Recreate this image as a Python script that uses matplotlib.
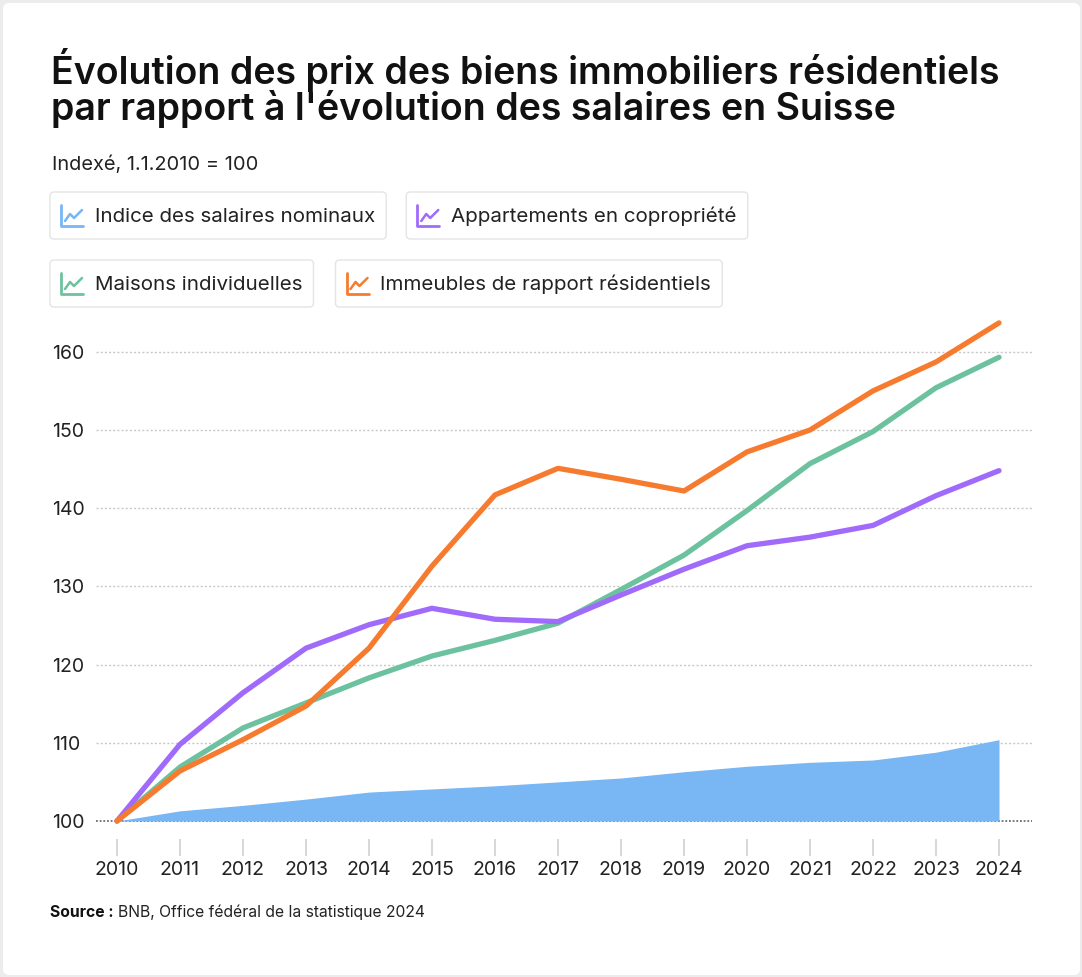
import numpy as np
import matplotlib
matplotlib.use("Agg")
import matplotlib.pyplot as plt
from matplotlib.patches import FancyBboxPatch
from matplotlib.lines import Line2D

plt.rcParams['font.family'] = ['Inter', 'DejaVu Sans']

########## DATA ##########

years = list(range(2010, 2025))
salaires = [100, 101.3, 102.0, 102.8, 103.7, 104.1, 104.5, 105.0, 105.5,
            106.3, 107.0, 107.5, 107.8, 108.8, 110.4]
appartements = [100, 109.8, 116.4, 122.1, 125.1, 127.2, 125.8, 125.5, 128.9,
                132.2, 135.2, 136.3, 137.8, 141.6, 144.8]
maisons = [100, 106.9, 111.9, 115.1, 118.3, 121.1, 123.1, 125.3, 129.6,
           134.0, 139.7, 145.7, 149.8, 155.4, 159.3]
immeubles = [100, 106.4, 110.4, 114.7, 122.1, 132.6, 141.7, 145.1, 143.7,
             142.2, 147.2, 150.0, 155.0, 158.7, 163.7]

yticks = [100, 110, 120, 130, 140, 150, 160]

series_names = ["Indice des salaires nominaux", "Appartements en copropriété",
                "Maisons individuelles", "Immeubles de rapport résidentiels"]
c_blue = '#78b6f4'
c_purple = '#a06afa'
c_green = '#6cc29e'
c_orange = '#f77b2e'
series_colors = [c_blue, c_purple, c_green, c_orange]

title_lines = ["Évolution des prix des biens immobiliers résidentiels",
               "par rapport à l'évolution des salaires en Suisse"]
subtitle = "Indexé, 1.1.2010 = 100"
source_bold = "Source :"
source_text = "BNB, Office fédéral de la statistique 2024"

########## FIGURE ##########

W, H = 1082, 977
fig = plt.figure(figsize=(W / 100, H / 100), dpi=100, facecolor='#ececec')

def fx(px):
    return px / W

def fy(py):
    return 1 - py / H

# white card behind everything
card = FancyBboxPatch((fx(3), fy(975)), fx(1077), 972 / H,
                      boxstyle="round,pad=0,rounding_size=0.006",
                      transform=fig.transFigure, facecolor='white',
                      edgecolor='none', zorder=-5)
fig.patches.append(card)

fig.text(fx(51), fy(84), title_lines[0], fontsize=27, fontweight='semibold',
         color='#111111', va='baseline')
fig.text(fx(51), fy(120), title_lines[1], fontsize=27, fontweight='semibold',
         color='#111111', va='baseline')
fig.text(fx(52), fy(170), subtitle, fontsize=14.4, color='#222222',
         va='baseline')

########## LEGEND ##########

fig.canvas.draw()
renderer = fig.canvas.get_renderer()

def legend_item(x0, y0, name, color):
    # y0 = top of box in px, box height 47
    bh = 47
    t = fig.text(fx(x0 + 45), fy(y0 + bh / 2 + 1), name, fontsize=14.8,
                 color='#222222', va='center', ha='left')
    bb = t.get_window_extent(renderer)
    x1 = bb.x1 + 11
    box = FancyBboxPatch((fx(x0), fy(y0 + bh)), fx(x1 - x0), bh / H,
                         boxstyle="round,pad=0,rounding_size=0.004",
                         transform=fig.transFigure, facecolor='white',
                         edgecolor='#e4e4e4', linewidth=1.0, zorder=-1)
    fig.patches.append(box)
    # small line-chart icon
    ix, iy = x0 + 10, y0 + 13
    fig.lines.append(Line2D([fx(ix + 1), fx(ix + 1), fx(ix + 23)],
                            [fy(iy), fy(iy + 21), fy(iy + 21)],
                            transform=fig.transFigure, color=color, lw=2,
                            solid_capstyle='round', solid_joinstyle='round'))
    fig.lines.append(Line2D([fx(ix + 5), fx(ix + 10), fx(ix + 14), fx(ix + 22)],
                            [fy(iy + 16), fy(iy + 9), fy(iy + 13), fy(iy + 5)],
                            transform=fig.transFigure, color=color, lw=1.8,
                            solid_capstyle='round', solid_joinstyle='round'))
    return x1

r1 = legend_item(50, 192, series_names[0], series_colors[0])
legend_item(r1 + 20, 192, series_names[1], series_colors[1])
r3 = legend_item(50, 260, series_names[2], series_colors[2])
legend_item(r3 + 22, 260, series_names[3], series_colors[3])

########## CHART ##########

ax_left, ax_right = 96, 1032
ax_top, ax_bottom = 297, 839
ax = fig.add_axes([fx(ax_left), fy(ax_bottom), fx(ax_right - ax_left),
                   (ax_bottom - ax_top) / H])
ax.set_facecolor('none')

px_per_year = 63.0
ax.set_xlim(2010 - (117 - ax_left) / px_per_year,
            2024 + (ax_right - 999) / px_per_year)
px_per_unit = 7.82
ax.set_ylim(100 - (ax_bottom - 821) / px_per_unit,
            100 + (821 - ax_top) / px_per_unit)

for v in yticks:
    if v == 100:
        ax.axhline(v, color='#555555', lw=1.1, ls=(0, (1.2, 1.2)), zorder=1)
    else:
        ax.axhline(v, color='#c8c8c8', lw=1.0, ls=(0, (1.5, 1.5)), zorder=1)

ax.fill_between(years, 100, salaires, color=c_blue, lw=0, zorder=2)
ax.plot(years, maisons, color=c_green, lw=3.8, solid_capstyle='round',
        solid_joinstyle='round', zorder=3)
ax.plot(years, appartements, color=c_purple, lw=3.8, solid_capstyle='round',
        solid_joinstyle='round', zorder=4)
ax.plot(years, immeubles, color=c_orange, lw=3.8, solid_capstyle='round',
        solid_joinstyle='round', zorder=5)

for s in ax.spines.values():
    s.set_visible(False)

ax.set_xticks(years)
ax.set_xticklabels([str(y) for y in years])
ax.tick_params(axis='x', length=12, width=1.3, color='#d4d4d4',
               labelsize=14, labelcolor='#222222', pad=4)
ax.set_yticks(yticks)
ax.set_yticklabels([str(v) for v in yticks])
ax.tick_params(axis='y', length=0, labelsize=14, labelcolor='#222222',
               pad=(ax_left - 52) * 0.72)
for lbl in ax.get_yticklabels():
    lbl.set_horizontalalignment('left')

########## SOURCE ##########

sb = fig.text(fx(50), fy(917), source_bold, fontsize=11.3, fontweight='bold',
              color='#111111', va='baseline')
bb = sb.get_window_extent(renderer)
fig.text(fx(bb.x1 + 4), fy(917), source_text, fontsize=11.3, color='#222222',
         va='baseline')

plt.savefig('out.png', dpi=100, facecolor=fig.get_facecolor())
